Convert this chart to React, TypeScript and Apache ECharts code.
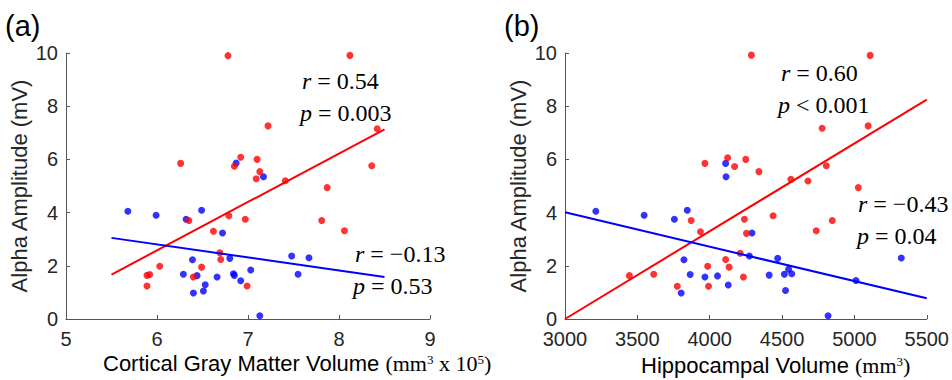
import React, { useEffect, useRef } from "react";
import * as echarts from "echarts";

// (a) Cortical gray matter volume (x 10^5 mm^3) vs alpha amplitude (mV)
const corticalRed: number[][] = [
  [6.78, 9.9], [8.12, 9.91], [7.22, 7.26], [8.42, 7.15], [6.92, 6.08], [7.1, 6.0],
  [6.26, 5.85], [6.85, 5.74], [8.36, 5.76], [7.13, 5.54], [7.09, 5.27], [7.41, 5.2],
  [7.87, 4.94], [6.79, 3.88], [6.97, 3.75], [6.35, 3.7], [7.81, 3.7], [6.62, 3.3],
  [8.06, 3.32], [6.69, 2.49], [6.7, 2.24], [6.03, 1.98], [6.49, 1.95], [5.92, 1.67],
  [5.89, 1.64], [6.4, 1.58], [5.89, 1.24], [6.99, 1.24],
];
const corticalBlue: number[][] = [
  [6.87, 5.86], [7.17, 5.35], [6.49, 4.09], [5.68, 4.05], [5.99, 3.9], [6.32, 3.75],
  [6.72, 3.23], [7.48, 2.37], [7.67, 2.3], [6.8, 2.28], [6.39, 2.23], [7.03, 1.84],
  [6.84, 1.7], [6.29, 1.68], [7.55, 1.68], [6.85, 1.64], [6.44, 1.63], [6.66, 1.58],
  [6.92, 1.44], [6.53, 1.29], [6.51, 1.05], [6.4, 0.98], [7.13, 0.12],
];
const corticalRedFit: number[][] = [[5.5, 1.67], [8.5, 7.13]];
const corticalBlueFit: number[][] = [[5.5, 3.05], [8.5, 1.58]];

// (b) Hippocampal volume (mm^3) vs alpha amplitude (mV)
const hippoRed: number[][] = [
  [4288, 9.92], [5109, 9.91], [5095, 7.26], [4777, 7.17], [4124, 6.06], [4249, 6.0],
  [3967, 5.85], [4172, 5.73], [4806, 5.76], [4340, 5.54], [4561, 5.25], [4679, 5.19],
  [5027, 4.94], [4438, 3.88], [4240, 3.75], [3872, 3.7], [4847, 3.7], [4736, 3.32],
  [3936, 3.28], [4254, 3.22], [4211, 2.47], [4110, 2.24], [3986, 1.98], [4134, 1.95],
  [3613, 1.68], [3445, 1.63], [4233, 1.58], [3776, 1.23], [3992, 1.23],
];
const hippoBlue: number[][] = [
  [4110, 5.85], [4113, 5.35], [3845, 4.09], [3213, 4.05], [3547, 3.9], [3756, 3.75],
  [4292, 3.23], [4274, 2.37], [5324, 2.29], [4470, 2.28], [3822, 2.23], [4545, 1.87],
  [4567, 1.7], [4516, 1.68], [3865, 1.67], [4411, 1.65], [4054, 1.62], [3967, 1.58],
  [5011, 1.45], [4128, 1.28], [4524, 1.07], [3803, 0.98], [4818, 0.12],
];
const hippoRedFit: number[][] = [[3000, 0.0], [5500, 8.25]];
const hippoBlueFit: number[][] = [[3000, 4.01], [5500, 0.78]];

// axis ranges / ticks
const yRange = { min: 0, max: 10, interval: 2 };
const corticalRange = { min: 5, max: 9, interval: 1 };
const hippoRange = { min: 3000, max: 5500, interval: 500 };

const statsA = [
  { r: "0.54", p: "= 0.003" },
  { r: "\u22120.13", p: "= 0.53" },
];
const statsB = [
  { r: "0.60", p: "< 0.001" },
  { r: "\u22120.43", p: "= 0.04" },
];

const RED = "#ff0000";
const BLUE = "#0000ff";
const SANS = "Liberation Sans, Arial, sans-serif";
const SERIF = "Liberation Serif, Times New Roman, serif";

export default function App() {
  const ref = useRef<HTMLDivElement>(null);
  useEffect(() => {
    if (!ref.current) return;
    const chart = echarts.init(ref.current, null, { renderer: "svg" });

    const axisCommon = {
      type: "value" as const,
      axisLine: { show: true, onZero: false, lineStyle: { color: "#555555", width: 1 } },
      axisTick: { show: true, inside: true, length: 4, lineStyle: { color: "#555555", width: 1 } },
      axisLabel: {
        color: "#262626",
        fontSize: 20,
        lineHeight: 16,
        fontFamily: SANS,
        margin: 8,
        formatter: (v: number) => String(v),
      },
      splitLine: { show: false },
    };

    const serifRich = {
      i: { fontFamily: SERIF, fontSize: 24, fontStyle: "italic", color: "#000" },
      n: { fontFamily: SERIF, fontSize: 24, color: "#000" },
    };
    const statText = (sym: string, rest: string, x: number, y: number) => ({
      type: "text",
      x,
      y,
      style: {
        text: `{i|${sym}}{n| ${rest}}`,
        rich: serifRich,
        textAlign: "left",
        textVerticalAlign: "middle",
      },
      z: 100,
    });
    const titleRich = {
      s: { fontFamily: SANS, fontSize: 22, color: "#262626" },
      t: { fontFamily: SERIF, fontSize: 22, color: "#262626" },
      u: { fontFamily: SERIF, fontSize: 13, color: "#262626", verticalAlign: "top" },
    };

    const option: any = {
      animation: false,
      backgroundColor: "#ffffff",
      grid: [
        { left: 66, top: 53, width: 364, height: 266 },
        { left: 565, top: 53, width: 365, height: 266 },
      ],
      xAxis: [
        { ...axisCommon, gridIndex: 0, ...corticalRange, axisLabel: { ...axisCommon.axisLabel, margin: 12 } },
        { ...axisCommon, gridIndex: 1, ...hippoRange, axisLabel: { ...axisCommon.axisLabel, margin: 12 } },
      ],
      yAxis: [
        { ...axisCommon, gridIndex: 0, ...yRange },
        { ...axisCommon, gridIndex: 1, ...yRange },
      ],
      series: [
        { type: "scatter", xAxisIndex: 0, yAxisIndex: 0, data: corticalBlue, symbolSize: 7, itemStyle: { color: BLUE } },
        { type: "scatter", xAxisIndex: 0, yAxisIndex: 0, data: corticalRed, symbolSize: 7, itemStyle: { color: RED } },
        { type: "line", xAxisIndex: 0, yAxisIndex: 0, data: corticalRedFit, showSymbol: false, lineStyle: { color: RED, width: 2 } },
        { type: "line", xAxisIndex: 0, yAxisIndex: 0, data: corticalBlueFit, showSymbol: false, lineStyle: { color: BLUE, width: 2 } },
        { type: "scatter", xAxisIndex: 1, yAxisIndex: 1, data: hippoBlue, symbolSize: 7, itemStyle: { color: BLUE } },
        { type: "scatter", xAxisIndex: 1, yAxisIndex: 1, data: hippoRed, symbolSize: 7, itemStyle: { color: RED } },
        { type: "line", xAxisIndex: 1, yAxisIndex: 1, data: hippoRedFit, showSymbol: false, lineStyle: { color: RED, width: 2 } },
        { type: "line", xAxisIndex: 1, yAxisIndex: 1, data: hippoBlueFit, showSymbol: false, lineStyle: { color: BLUE, width: 2 } },
      ],
      graphic: [
        { type: "text", x: 5, y: 26, style: { text: "(a)", font: `29px ${SANS}`, fill: "#000", textAlign: "left", textVerticalAlign: "middle" } },
        { type: "text", x: 504, y: 26, style: { text: "(b)", font: `29px ${SANS}`, fill: "#000", textAlign: "left", textVerticalAlign: "middle" } },
        { type: "text", x: 19.5, y: 186, rotation: Math.PI / 2, style: { text: "Alpha Amplitude (mV)", font: `22px ${SANS}`, fill: "#262626", textAlign: "center", textVerticalAlign: "middle" } },
        { type: "text", x: 518.5, y: 186, rotation: Math.PI / 2, style: { text: "Alpha Amplitude (mV)", font: `22px ${SANS}`, fill: "#262626", textAlign: "center", textVerticalAlign: "middle" } },
        {
          type: "text", x: 103, y: 363.5,
          style: { text: "{s|Cortical Gray Matter Volume }{t|(mm}{u|3}{t| x 10}{u|5}{t|)}", rich: titleRich, textAlign: "left", textVerticalAlign: "middle" },
        },
        {
          type: "text", x: 641, y: 365.5,
          style: { text: "{s|Hippocampal Volume }{t|(mm}{u|3}{t|)}", rich: titleRich, textAlign: "left", textVerticalAlign: "middle" },
        },
        statText("r", `= ${statsA[0].r}`, 302, 80.5),
        statText("p", statsA[0].p, 300, 113),
        statText("r", `= ${statsA[1].r}`, 355, 254),
        statText("p", statsA[1].p, 353, 285.5),
        statText("r", `= ${statsB[0].r}`, 781, 73),
        statText("p", statsB[0].p, 778, 105),
        statText("r", `= ${statsB[1].r}`, 858, 204),
        statText("p", statsB[1].p, 857, 236),
      ],
    };
    chart.setOption(option);
    return () => chart.dispose();
  }, []);
  return (
    <div
      ref={ref}
      style={{ position: "fixed", left: 0, top: 0, width: 952, height: 380, background: "#fff" }}
    />
  );
}
